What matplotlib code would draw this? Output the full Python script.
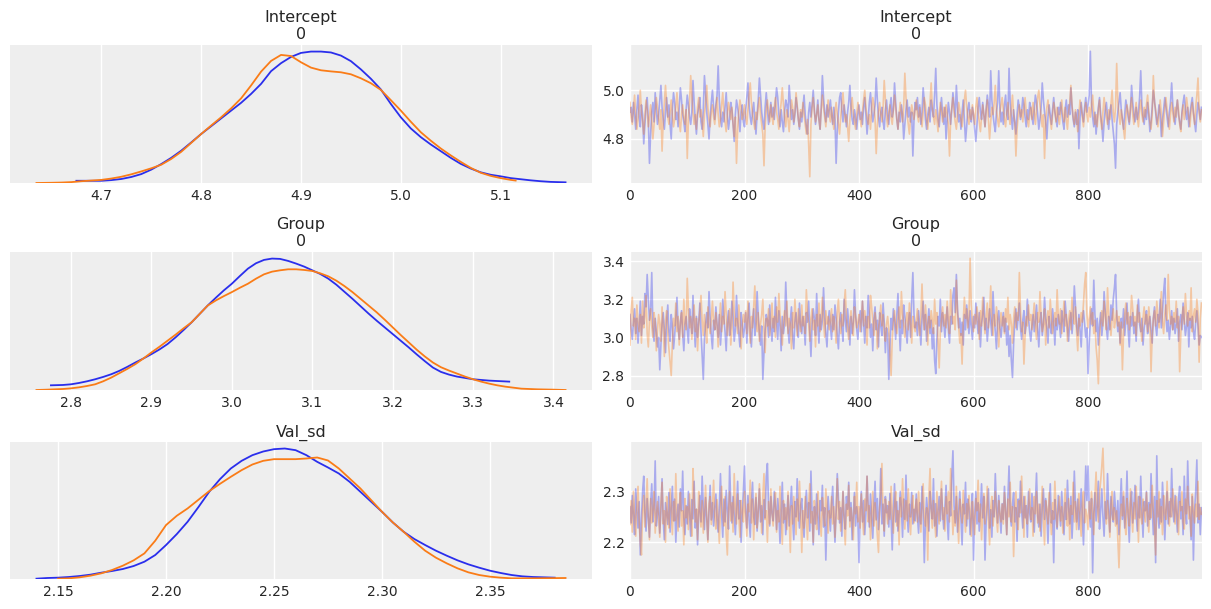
import numpy as np
import matplotlib
matplotlib.use("Agg")
import matplotlib.pyplot as plt

# ---- KDE curves (x value, density) ----
intercept_kde_x_blue = [4.675, 4.69, 4.70, 4.71, 4.72, 4.73, 4.74, 4.75, 4.76, 4.77, 4.78, 4.79, 4.80, 4.81, 4.82,
                        4.83, 4.84, 4.85, 4.86, 4.87, 4.88, 4.89, 4.90, 4.91, 4.92, 4.93, 4.94, 4.95, 4.96, 4.97,
                        4.98, 4.99, 5.00, 5.01, 5.02, 5.03, 5.04, 5.05, 5.06, 5.07, 5.08, 5.09, 5.10, 5.11, 5.12,
                        5.13, 5.14, 5.15, 5.165]
intercept_kde_y_blue = [0.10, 0.10, 0.10, 0.13, 0.18, 0.27, 0.40, 0.60, 0.85, 1.13, 1.45, 1.82, 2.20, 2.55, 2.90,
                        3.25, 3.60, 4.00, 4.45, 5.02, 5.38, 5.66, 5.84, 5.90, 5.90, 5.86, 5.72, 5.47, 5.10, 4.68,
                        4.20, 3.55, 2.95, 2.45, 2.06, 1.73, 1.43, 1.13, 0.86, 0.65, 0.48, 0.37, 0.30, 0.22, 0.17,
                        0.12, 0.08, 0.05, 0.03]
intercept_kde_x_orange = [4.635, 4.65, 4.66, 4.67, 4.68, 4.69, 4.70, 4.71, 4.72, 4.73, 4.74, 4.75, 4.76, 4.77, 4.78,
                          4.79, 4.80, 4.81, 4.82, 4.83, 4.84, 4.85, 4.86, 4.87, 4.88, 4.89, 4.90, 4.91, 4.92, 4.93,
                          4.94, 4.95, 4.96, 4.97, 4.98, 4.99, 5.00, 5.01, 5.02, 5.03, 5.04, 5.05, 5.06, 5.07, 5.08,
                          5.09, 5.10, 5.11, 5.115]
intercept_kde_y_orange = [0.0, 0.01, 0.02, 0.04, 0.08, 0.11, 0.14, 0.20, 0.28, 0.39, 0.52, 0.66, 0.82, 1.08, 1.40,
                          1.80, 2.20, 2.58, 2.95, 3.35, 3.80, 4.38, 5.00, 5.48, 5.75, 5.70, 5.42, 5.18, 5.06, 5.01,
                          4.97, 4.88, 4.70, 4.48, 4.18, 3.72, 3.25, 2.75, 2.28, 1.90, 1.55, 1.24, 0.95, 0.68, 0.46,
                          0.32, 0.22, 0.14, 0.11]

group_kde_x_blue = [2.775, 2.79, 2.80, 2.81, 2.82, 2.83, 2.84, 2.85, 2.86, 2.87, 2.88, 2.89, 2.90, 2.91, 2.92,
                    2.93, 2.94, 2.95, 2.96, 2.97, 2.98, 2.99, 3.00, 3.01, 3.02, 3.03, 3.04, 3.05, 3.06, 3.07,
                    3.08, 3.09, 3.10, 3.11, 3.12, 3.13, 3.14, 3.15, 3.16, 3.17, 3.18, 3.19, 3.20, 3.21, 3.22,
                    3.23, 3.24, 3.25, 3.26, 3.27, 3.28, 3.29, 3.30, 3.32, 3.345]
group_kde_y_blue = [0.14, 0.15, 0.17, 0.21, 0.26, 0.32, 0.39, 0.47, 0.57, 0.69, 0.82, 0.94, 1.07, 1.21, 1.37,
                    1.57, 1.79, 2.02, 2.27, 2.52, 2.75, 2.97, 3.17, 3.40, 3.62, 3.78, 3.88, 3.92, 3.91, 3.85,
                    3.77, 3.68, 3.57, 3.46, 3.32, 3.14, 2.93, 2.72, 2.50, 2.28, 2.07, 1.87, 1.67, 1.47, 1.27,
                    1.06, 0.86, 0.67, 0.54, 0.46, 0.40, 0.36, 0.32, 0.28, 0.25]
group_kde_x_orange = [2.757, 2.77, 2.78, 2.79, 2.80, 2.81, 2.82, 2.83, 2.84, 2.85, 2.86, 2.87, 2.88, 2.89, 2.90,
                      2.91, 2.92, 2.93, 2.94, 2.95, 2.96, 2.97, 2.98, 2.99, 3.00, 3.01, 3.02, 3.03, 3.04, 3.05,
                      3.06, 3.07, 3.08, 3.09, 3.10, 3.11, 3.12, 3.13, 3.14, 3.15, 3.16, 3.17, 3.18, 3.19, 3.20,
                      3.21, 3.22, 3.23, 3.24, 3.25, 3.26, 3.27, 3.28, 3.29, 3.30, 3.31, 3.32, 3.33, 3.34, 3.35,
                      3.36, 3.38, 3.40, 3.415]
group_kde_y_orange = [0.0, 0.01, 0.02, 0.03, 0.05, 0.08, 0.12, 0.17, 0.26, 0.37, 0.50, 0.63, 0.77, 0.94, 1.12,
                      1.29, 1.47, 1.65, 1.84, 2.02, 2.27, 2.52, 2.67, 2.80, 2.92, 3.05, 3.17, 3.32, 3.45, 3.53,
                      3.57, 3.60, 3.60, 3.58, 3.55, 3.48, 3.39, 3.26, 3.10, 2.92, 2.72, 2.52, 2.32, 2.10, 1.87,
                      1.64, 1.42, 1.20, 1.00, 0.82, 0.68, 0.58, 0.49, 0.40, 0.32, 0.25, 0.19, 0.14, 0.10, 0.07,
                      0.04, 0.02, 0.01, 0.0]

valsd_kde_x_blue = [2.14, 2.145, 2.15, 2.155, 2.16, 2.165, 2.17, 2.175, 2.18, 2.185, 2.19, 2.195, 2.20, 2.205, 2.21,
                    2.215, 2.22, 2.225, 2.23, 2.235, 2.24, 2.245, 2.25, 2.255, 2.26, 2.265, 2.27, 2.275, 2.28, 2.285,
                    2.29, 2.295, 2.30, 2.305, 2.31, 2.315, 2.32, 2.325, 2.33, 2.335, 2.34, 2.345, 2.35, 2.355, 2.36,
                    2.365, 2.37, 2.38]
valsd_kde_y_blue = [0.01, 0.03, 0.04, 0.06, 0.09, 0.13, 0.19, 0.24, 0.30, 0.39, 0.52, 0.72, 1.02, 1.35, 1.72,
                    2.16, 2.62, 3.00, 3.32, 3.55, 3.72, 3.83, 3.90, 3.92, 3.87, 3.72, 3.52, 3.35, 3.17, 2.92,
                    2.62, 2.32, 2.02, 1.70, 1.42, 1.20, 1.02, 0.85, 0.70, 0.56, 0.44, 0.34, 0.25, 0.18, 0.12,
                    0.08, 0.06, 0.04]
valsd_kde_x_orange = [2.15, 2.155, 2.16, 2.165, 2.17, 2.175, 2.18, 2.185, 2.19, 2.195, 2.20, 2.205, 2.21, 2.215, 2.22,
                      2.225, 2.23, 2.235, 2.24, 2.245, 2.25, 2.255, 2.26, 2.265, 2.27, 2.275, 2.28, 2.285, 2.29, 2.295,
                      2.30, 2.305, 2.31, 2.315, 2.32, 2.325, 2.33, 2.335, 2.34, 2.345, 2.35, 2.355, 2.36, 2.37, 2.385]
valsd_kde_y_orange = [0.01, 0.02, 0.05, 0.10, 0.17, 0.27, 0.40, 0.56, 0.77, 1.15, 1.62, 1.90, 2.12, 2.38, 2.64,
                      2.86, 3.07, 3.27, 3.44, 3.55, 3.60, 3.60, 3.60, 3.62, 3.65, 3.56, 3.32, 3.02, 2.72, 2.37,
                      2.02, 1.70, 1.42, 1.12, 0.85, 0.64, 0.47, 0.32, 0.20, 0.12, 0.07, 0.04, 0.02, 0.02, 0.03]

# ---- trace samples, every 2nd draw (one row = 50 draws) ----
intercept_blue = [
    4.91, 4.93, 4.87, 4.95, 4.90, 4.84, 4.92, 4.98, 4.89, 4.85, 4.94, 4.90, 4.78, 4.86, 4.93, 4.97, 4.88, 4.70, 4.82, 4.91, 4.95, 4.87, 4.99, 4.92, 4.86,
    4.90, 4.96, 5.02, 4.93, 4.88, 4.84, 4.91, 4.97, 4.89, 4.94, 4.86, 4.80, 4.92, 4.99, 4.95, 4.88, 4.91, 4.85, 4.93, 5.01, 4.96, 4.90, 4.87, 4.83, 4.92,
    4.98, 4.94, 4.89, 4.86, 4.91, 5.04, 4.95, 4.88, 4.82, 4.90, 4.93, 4.97, 4.87, 4.84, 4.92, 5.06, 4.99, 4.91, 4.86, 4.80, 4.89, 4.95, 5.00, 4.93, 4.88,
    4.94, 4.98, 5.10, 4.96, 4.89, 4.85, 4.91, 4.87, 4.93, 4.99, 4.90, 4.84, 4.88, 4.95, 4.92, 4.86, 4.79, 4.90, 4.96, 4.93, 4.89, 4.83, 4.91, 4.94, 4.87,
    4.85, 4.92, 4.97, 5.03, 4.94, 4.89, 4.86, 4.91, 4.95, 4.88, 4.82, 4.90, 4.96, 5.05, 4.98, 4.91, 4.87, 4.84, 4.93, 4.99, 4.92, 4.86, 4.90, 4.95, 4.89,
    4.93, 4.88, 4.95, 5.01, 4.97, 4.90, 4.85, 4.92, 4.87, 4.83, 4.91, 4.96, 4.94, 4.89, 5.02, 4.95, 4.88, 4.92, 4.86, 4.90, 4.97, 4.93, 4.88, 4.84, 4.91,
    4.87, 4.93, 4.98, 4.90, 4.85, 4.82, 4.91, 4.95, 4.89, 4.94, 5.00, 4.92, 4.86, 4.90, 4.96, 4.88, 4.84, 4.93, 5.06, 4.97, 4.91, 4.87, 4.94, 4.89, 4.92,
    4.96, 4.90, 4.86, 4.93, 4.88, 4.70, 4.84, 4.91, 4.97, 4.99, 4.92, 4.87, 4.94, 4.90, 4.85, 4.91, 4.95, 5.02, 4.93, 4.88, 4.86, 4.92, 4.89, 4.84, 4.90,
    4.94, 4.88, 4.91, 4.86, 4.93, 4.97, 4.90, 4.82, 4.88, 4.95, 4.99, 4.92, 4.87, 4.90, 4.94, 5.05, 4.96, 4.89, 4.85, 4.91, 4.93, 4.87, 4.84, 4.92, 4.96,
    4.90, 4.86, 4.93, 4.97, 4.89, 4.92, 5.03, 4.95, 4.88, 4.84, 4.91, 4.87, 4.94, 4.90, 4.80, 4.86, 4.92, 4.96, 4.89, 4.93, 4.87, 4.91, 4.73, 4.88, 4.95,
    4.92, 4.97, 4.89, 4.94, 4.86, 4.91, 5.01, 4.95, 4.88, 4.84, 4.90, 4.93, 4.87, 4.96, 4.92, 4.89, 4.98, 5.09, 4.94, 4.88, 4.85, 4.91, 4.97, 4.90, 4.86,
    4.93, 4.80, 4.88, 4.95, 4.91, 4.86, 4.92, 4.99, 4.94, 4.89, 5.02, 4.93, 4.87, 4.90, 4.84, 4.91, 4.96, 4.88, 4.79, 4.85, 4.92, 4.95, 4.89, 4.87, 4.93,
    4.90, 4.84, 4.79, 4.86, 4.93, 4.97, 4.91, 4.88, 4.95, 4.90, 4.85, 4.92, 4.98, 4.94, 4.89, 5.08, 4.96, 4.90, 4.86, 4.83, 4.91, 4.95, 5.08, 4.93, 4.87,
    4.91, 4.86, 4.94, 4.98, 4.90, 4.88, 5.09, 4.95, 4.89, 4.84, 4.92, 4.87, 4.82, 4.90, 4.96, 4.93, 4.88, 4.91, 4.97, 4.94, 4.89, 4.85, 4.92, 4.88, 4.95,
    4.93, 4.89, 4.86, 4.92, 4.98, 4.95, 4.90, 4.84, 4.88, 4.93, 5.03, 4.96, 4.91, 4.87, 4.80, 4.89, 4.94, 4.90, 4.86, 4.92, 4.97, 4.91, 4.88, 4.85, 4.93,
    4.90, 4.95, 4.91, 4.87, 4.84, 4.92, 4.96, 4.89, 4.94, 4.90, 5.01, 4.93, 4.88, 4.85, 4.91, 4.86, 4.92, 4.76, 4.89, 4.95, 4.90, 4.87, 4.93, 4.97, 4.91,
    4.94, 4.98, 5.16, 4.95, 4.89, 4.85, 4.91, 4.82, 4.88, 4.93, 4.97, 4.90, 4.86, 4.79, 4.87, 4.92, 4.95, 4.89, 4.84, 4.91, 4.94, 4.88, 4.83, 4.78, 4.68,
    4.86, 4.91, 4.95, 4.99, 4.92, 4.88, 4.84, 4.90, 4.96, 4.93, 4.89, 4.86, 4.92, 5.02, 4.95, 4.90, 4.87, 4.93, 4.88, 4.91, 4.97, 5.08, 4.94, 4.89, 4.86,
    4.92, 4.88, 4.95, 4.90, 4.83, 4.87, 4.93, 5.00, 4.96, 4.91, 4.86, 4.89, 4.94, 4.90, 4.81, 4.88, 4.92, 4.97, 4.93, 4.89, 4.85, 4.91, 4.95, 5.03, 4.94,
    4.89, 4.86, 4.92, 4.96, 4.90, 4.87, 4.84, 4.91, 4.95, 4.98, 4.92, 4.88, 4.93, 4.85, 4.90, 4.94, 4.97, 4.91, 4.87, 4.83, 4.90, 4.95, 4.92, 4.88, 4.93,
]
intercept_orange = [
    4.95, 4.89, 4.86, 4.92, 4.98, 4.90, 4.84, 4.88, 4.93, 5.00, 4.91, 4.87, 4.82, 4.90, 4.96, 4.92, 4.85, 4.89, 4.94, 4.88, 4.80, 4.86, 4.91, 4.97, 4.93,
    4.88, 4.84, 4.92, 4.75, 4.87, 4.95, 5.02, 4.94, 4.89, 4.86, 4.91, 4.96, 4.90, 4.85, 4.88, 4.93, 4.99, 4.92, 4.87, 4.83, 4.90, 4.94, 4.89, 4.86, 4.92,
    4.72, 4.88, 4.95, 5.06, 4.98, 4.91, 4.86, 4.90, 4.84, 4.93, 4.97, 4.89, 4.92, 4.87, 4.81, 4.90, 4.95, 5.02, 4.93, 4.88, 4.85, 4.91, 4.94, 4.89, 4.86,
    4.92, 4.97, 4.90, 4.85, 4.88, 4.94, 4.99, 4.91, 4.87, 4.83, 4.90, 4.95, 4.92, 4.88, 4.93, 4.86, 4.81, 4.89, 4.70, 4.84, 4.91, 4.96, 4.93, 4.88, 4.90,
    4.94, 4.89, 4.86, 4.92, 4.98, 5.03, 4.95, 4.90, 4.87, 4.84, 4.91, 4.88, 4.93, 4.97, 4.90, 4.86, 4.82, 4.69, 4.85, 4.92, 4.96, 4.91, 4.87, 4.94, 4.89,
    4.86, 4.93, 4.97, 4.91, 4.88, 4.84, 4.90, 4.95, 5.01, 4.94, 4.89, 4.85, 4.92, 4.88, 4.83, 4.90, 4.96, 4.93, 4.87, 4.91, 4.99, 4.94, 4.88, 4.85, 4.92,
    4.89, 4.95, 4.90, 4.86, 4.82, 4.88, 4.78, 4.645, 4.86, 4.93, 4.97, 4.91, 4.87, 4.90, 4.94, 4.88, 4.84, 4.92, 4.98, 4.93, 4.89, 4.85, 4.91, 4.96, 4.90,
    4.87, 4.93, 4.88, 4.84, 4.91, 4.95, 4.90, 4.86, 4.82, 4.89, 4.94, 4.99, 4.92, 4.87, 4.90, 4.85, 4.79, 4.88, 4.93, 4.97, 4.91, 4.87, 4.84, 4.90, 4.95,
    4.92, 4.88, 4.85, 4.91, 4.96, 5.00, 4.93, 4.89, 4.86, 4.90, 4.84, 4.92, 4.97, 4.94, 4.88, 4.74, 4.86, 4.91, 4.95, 4.90, 4.87, 4.93, 5.04, 4.96, 4.89,
    4.85, 4.91, 4.94, 4.89, 4.86, 4.92, 4.98, 4.93, 4.88, 4.84, 4.90, 4.95, 4.91, 4.87, 4.93, 5.07, 4.97, 4.90, 4.86, 4.82, 4.89, 4.94, 4.91, 4.88, 4.92,
    4.96, 4.90, 4.87, 4.93, 4.89, 4.85, 4.91, 4.97, 4.94, 4.88, 4.84, 4.90, 4.95, 5.03, 4.93, 4.89, 4.86, 4.92, 4.88, 4.83, 4.90, 4.95, 4.91, 4.87, 4.93,
    4.89, 4.94, 4.90, 4.86, 4.73, 4.88, 4.93, 4.97, 4.91, 4.87, 4.84, 4.90, 4.95, 4.92, 4.88, 4.85, 4.91, 4.96, 5.00, 4.93, 4.89, 4.86, 4.92, 4.88, 4.94,
    4.90, 4.86, 4.93, 4.97, 4.91, 4.87, 4.83, 4.89, 4.94, 4.90, 4.85, 4.92, 4.96, 4.88, 4.80, 4.87, 4.93, 4.90, 4.95, 5.02, 4.92, 4.88, 4.85, 4.91, 4.94,
    4.97, 4.92, 4.88, 4.85, 4.91, 4.95, 4.89, 4.86, 4.93, 4.98, 4.90, 4.87, 4.73, 4.84, 4.90, 4.94, 4.89, 4.92, 4.87, 4.93, 4.97, 4.91, 4.88, 4.85, 4.90,
    4.93, 4.88, 4.95, 4.91, 4.86, 4.92, 4.97, 5.00, 4.94, 4.89, 4.85, 4.90, 4.72, 4.87, 4.93, 4.96, 4.91, 4.88, 4.84, 4.90, 4.95, 4.92, 4.87, 4.93, 4.89,
    4.86, 4.92, 4.96, 4.90, 4.87, 4.93, 4.88, 4.84, 4.91, 4.95, 5.02, 4.94, 4.89, 4.86, 4.92, 4.88, 4.83, 4.90, 4.96, 4.93, 4.89, 4.85, 4.91, 4.95, 4.90,
    4.87, 4.93, 4.89, 4.94, 4.98, 4.91, 4.86, 4.90, 4.85, 4.92, 4.96, 4.88, 4.84, 4.91, 4.97, 4.93, 4.89, 4.86, 4.92, 4.88, 4.94, 5.00, 4.91, 4.87, 4.93,
    5.11, 4.95, 4.90, 4.86, 4.92, 4.88, 4.84, 4.80, 4.89, 4.94, 4.91, 4.87, 4.93, 4.97, 4.90, 4.86, 4.91, 4.95, 4.89, 4.85, 4.92, 4.96, 4.90, 4.87, 4.93,
    4.89, 4.94, 4.98, 4.91, 4.87, 4.84, 4.90, 5.06, 4.95, 4.92, 4.88, 4.85, 4.91, 4.96, 4.90, 4.81, 4.87, 4.93, 4.97, 4.92, 4.88, 4.84, 4.90, 4.95, 4.91,
    4.87, 4.93, 4.89, 4.96, 4.92, 4.86, 4.83, 4.90, 4.94, 4.88, 4.91, 4.97, 4.93, 4.89, 4.85, 4.92, 4.95, 4.90, 4.86, 4.93, 4.98, 5.05, 4.91, 4.87, 4.92,
]

group_blue = [
    3.12, 3.04, 2.99, 3.08, 3.15, 3.02, 3.10, 2.97, 3.06, 3.19, 3.01, 3.11, 3.07, 3.23, 3.16, 3.33, 3.20, 3.09, 3.14, 3.34, 3.05, 2.98, 3.10, 3.03, 2.95,
    3.00, 2.83, 2.96, 3.07, 3.13, 3.04, 2.92, 3.09, 3.17, 3.03, 2.98, 3.12, 3.06, 2.94, 3.01, 3.10, 3.21, 3.05, 2.99, 3.08, 3.14, 3.02, 2.93, 3.07, 3.11,
    3.04, 2.97, 3.15, 3.09, 3.02, 3.22, 3.06, 2.95, 3.11, 3.00, 3.08, 3.18, 3.03, 2.91, 2.78, 2.99, 3.07, 3.13, 3.05, 3.24, 3.10, 3.01, 2.94, 3.09, 3.04,
    3.16, 3.07, 3.00, 3.12, 2.96, 3.05, 3.20, 3.10, 3.03, 2.93, 3.08, 3.14, 3.01, 3.06, 3.19, 3.11, 2.98, 3.04, 3.22, 3.09, 3.02, 2.95, 3.13, 3.07, 3.00,
    3.05, 3.13, 2.97, 3.10, 3.18, 3.03, 2.95, 3.08, 3.15, 3.01, 3.07, 3.24, 3.11, 3.02, 2.96, 3.06, 2.78, 2.92, 3.04, 3.12, 3.09, 3.00, 3.17, 3.05, 2.98,
    3.10, 3.03, 3.21, 3.08, 2.99, 3.14, 3.06, 2.93, 3.11, 3.02, 3.07, 3.29, 3.12, 3.04, 2.97, 3.09, 3.16, 3.01, 2.94, 3.08, 3.13, 3.05, 3.00, 3.18, 3.07,
    3.02, 3.11, 3.06, 2.96, 3.13, 3.08, 3.19, 3.03, 2.90, 3.07, 3.15, 3.10, 3.01, 3.23, 3.06, 2.97, 3.12, 3.04, 3.09, 3.26, 3.11, 3.02, 2.95, 3.08, 3.14,
    3.06, 2.99, 3.12, 3.04, 3.17, 3.10, 3.01, 2.94, 3.08, 3.13, 3.05, 2.98, 3.20, 3.09, 3.03, 3.15, 3.07, 2.96, 3.11, 3.02, 3.08, 3.25, 3.12, 3.04, 2.99,
    3.09, 3.14, 3.03, 3.19, 3.08, 2.97, 3.11, 3.05, 3.22, 3.12, 3.00, 3.07, 2.93, 3.10, 3.16, 3.04, 3.09, 2.95, 3.13, 3.06, 3.01, 3.18, 3.08, 2.92, 3.05,
    3.02, 2.78, 2.96, 3.10, 3.04, 3.15, 3.08, 2.99, 3.12, 3.23, 3.06, 2.93, 3.09, 3.02, 3.17, 3.11, 3.04, 2.97, 3.07, 3.13, 3.00, 3.20, 3.34, 3.12, 3.05,
    3.08, 3.01, 3.14, 3.06, 2.96, 3.10, 3.19, 3.04, 3.12, 2.98, 3.07, 3.15, 3.02, 3.09, 2.94, 3.05, 2.88, 2.81, 2.99, 3.11, 3.06, 3.20, 3.03, 3.13, 3.08,
    3.00, 3.09, 3.16, 3.04, 2.97, 3.11, 3.07, 3.22, 3.26, 3.13, 3.33, 3.15, 3.05, 3.10, 3.01, 3.08, 2.96, 3.12, 3.04, 3.17, 3.09, 3.02, 3.14, 3.06, 2.99,
    3.11, 3.05, 3.18, 3.09, 3.02, 3.13, 2.95, 3.07, 3.12, 3.21, 3.04, 3.10, 2.98, 3.06, 3.15, 3.08, 3.01, 3.24, 3.11, 3.03, 2.94, 3.09, 3.14, 3.05, 3.00,
    3.07, 3.13, 3.03, 3.10, 2.96, 3.06, 2.90, 3.01, 2.88, 2.79, 2.97, 3.08, 3.15, 3.04, 3.11, 3.18, 3.05, 2.99, 3.09, 3.14, 3.02, 3.07, 3.20, 3.10, 3.03,
    2.98, 3.06, 3.12, 3.03, 3.09, 3.17, 3.04, 2.95, 3.08, 3.13, 3.01, 3.07, 3.21, 3.10, 3.05, 2.97, 3.11, 3.06, 3.02, 3.15, 3.08, 2.96, 3.10, 3.04, 3.12,
    3.07, 3.00, 3.14, 3.09, 3.03, 3.19, 3.11, 3.05, 2.98, 3.08, 3.13, 3.02, 3.10, 3.27, 3.16, 3.06, 3.01, 3.12, 3.04, 2.95, 3.09, 3.14, 3.07, 3.00, 3.05,
    2.81, 2.97, 3.09, 3.15, 3.06, 3.30, 3.12, 3.03, 3.10, 2.96, 3.07, 3.13, 3.01, 3.08, 3.24, 3.14, 3.05, 2.99, 3.11, 3.04, 3.17, 3.09, 3.20, 3.26, 3.33,
    3.12, 3.03, 3.08, 2.97, 3.10, 3.05, 3.15, 3.01, 3.09, 3.18, 3.04, 2.95, 3.11, 3.06, 3.13, 3.02, 3.08, 2.98, 3.12, 3.20, 3.07, 3.03, 3.10, 2.96, 3.05,
    3.09, 3.14, 3.02, 3.07, 3.11, 3.04, 2.97, 3.10, 3.16, 3.06, 3.01, 3.12, 3.08, 3.20, 3.05, 3.13, 3.24, 3.31, 3.11, 3.03, 3.09, 2.99, 3.06, 3.14, 3.04,
    3.10, 3.02, 3.07, 3.15, 2.98, 3.08, 3.12, 3.04, 3.18, 3.09, 3.01, 3.06, 3.13, 2.95, 3.10, 3.05, 3.11, 3.03, 2.99, 3.08, 3.14, 3.06, 2.96, 3.01, 3.00,
]
group_orange = [
    2.96, 3.14, 3.21, 3.06, 3.10, 2.99, 3.17, 3.08, 3.03, 3.12, 2.97, 3.19, 3.05, 3.11, 3.22, 3.02, 2.95, 3.09, 3.15, 3.06, 3.00, 3.13, 3.08, 2.93, 3.04,
    3.12, 3.07, 2.98, 3.16, 3.05, 2.90, 3.09, 3.14, 3.02, 2.94, 2.87, 2.80, 2.97, 3.10, 3.06, 3.18, 3.03, 3.11, 2.96, 3.08, 3.13, 3.00, 3.20, 3.07, 3.04,
    3.31, 3.15, 3.05, 3.11, 2.99, 3.08, 3.17, 3.03, 3.10, 2.93, 3.06, 3.14, 3.22, 3.09, 3.01, 3.12, 3.05, 2.97, 3.16, 3.07, 3.02, 3.10, 3.19, 3.08, 3.04,
    3.13, 3.06, 2.95, 3.09, 3.18, 3.03, 3.11, 3.07, 3.24, 3.12, 3.01, 3.08, 3.15, 2.96, 3.05, 3.29, 3.14, 3.06, 3.10, 3.02, 3.17, 3.09, 2.94, 3.05, 3.12,
    3.08, 3.14, 3.02, 3.19, 3.06, 2.97, 3.11, 3.05, 3.16, 3.27, 3.09, 3.03, 3.13, 2.98, 3.07, 3.12, 3.20, 3.04, 2.92, 3.10, 3.06, 3.15, 3.01, 3.08, 3.18,
    3.05, 3.11, 3.00, 3.16, 3.08, 3.23, 3.12, 3.04, 2.96, 3.09, 3.14, 3.06, 3.19, 3.02, 3.10, 3.07, 2.94, 3.13, 3.05, 3.20, 3.09, 3.01, 3.15, 3.08, 3.03,
    3.17, 3.06, 3.11, 3.02, 3.25, 3.13, 3.07, 2.98, 3.10, 3.15, 3.04, 3.09, 2.95, 3.12, 3.06, 3.18, 3.03, 3.10, 3.21, 3.08, 3.00, 3.14, 3.07, 3.11, 3.04,
    3.09, 3.15, 3.03, 3.11, 3.06, 2.97, 3.13, 3.20, 3.08, 3.02, 3.12, 3.06, 3.17, 3.25, 3.10, 3.04, 2.99, 3.09, 3.14, 3.07, 3.01, 3.16, 3.11, 3.05, 3.08,
    3.12, 3.03, 3.10, 3.19, 3.06, 3.14, 3.08, 2.96, 3.11, 3.05, 3.22, 3.16, 3.09, 3.01, 3.13, 3.07, 2.94, 3.04, 3.10, 3.17, 3.06, 3.12, 3.02, 2.98, 3.07,
    3.11, 3.04, 2.92, 2.80, 2.99, 3.08, 3.14, 3.06, 3.02, 3.10, 3.16, 3.05, 3.24, 3.12, 3.07, 3.00, 3.09, 3.13, 3.04, 3.18, 3.08, 2.97, 3.11, 3.06, 3.03,
    3.09, 3.15, 3.06, 3.01, 3.12, 3.28, 3.10, 3.04, 3.17, 3.08, 2.96, 3.11, 3.05, 3.14, 3.09, 3.02, 3.20, 3.07, 3.13, 2.98, 2.84, 3.03, 3.10, 3.16, 3.06,
    3.12, 3.05, 3.19, 3.09, 3.02, 3.25, 3.14, 3.07, 3.11, 3.04, 3.30, 3.13, 3.06, 2.97, 3.02, 2.86, 3.08, 3.21, 3.10, 3.15, 3.05, 3.11, 3.415, 3.17, 3.08,
    3.03, 3.12, 3.07, 3.16, 3.10, 2.99, 3.14, 3.06, 3.21, 3.09, 3.02, 3.11, 3.18, 3.05, 3.13, 3.27, 3.08, 3.01, 3.12, 3.06, 3.16, 3.10, 2.95, 3.07, 3.13,
    3.06, 3.11, 3.02, 3.15, 3.08, 3.21, 3.04, 3.12, 3.07, 2.97, 3.10, 3.16, 3.05, 3.13, 3.09, 3.34, 3.14, 3.03, 3.08, 2.86, 3.01, 3.11, 3.06, 3.17, 3.09,
    3.12, 3.04, 3.10, 3.18, 3.06, 2.99, 3.13, 3.08, 3.24, 3.11, 3.03, 3.07, 3.15, 2.96, 3.09, 3.14, 3.05, 3.20, 3.10, 3.02, 3.08, 3.13, 3.06, 3.25, 3.11,
    3.07, 3.15, 3.02, 3.10, 3.19, 3.06, 3.12, 2.98, 3.09, 3.14, 3.04, 3.21, 3.11, 3.07, 3.16, 3.03, 2.93, 3.10, 3.06, 3.13, 3.08, 3.18, 3.28, 3.34, 3.12,
    3.05, 3.10, 3.16, 3.07, 3.13, 3.02, 3.09, 2.95, 2.88, 2.757, 2.99, 3.08, 3.14, 3.06, 3.19, 3.11, 3.04, 3.26, 3.12, 3.07, 3.01, 3.10, 3.15, 3.05, 3.09,
    3.14, 3.06, 3.11, 2.96, 3.08, 2.83, 3.02, 3.12, 3.18, 3.07, 3.13, 3.04, 3.09, 3.22, 3.15, 3.06, 3.11, 3.01, 3.17, 3.08, 3.13, 3.05, 2.98, 3.10, 3.16,
    3.07, 3.12, 3.03, 3.16, 3.09, 2.82, 3.01, 3.10, 3.14, 3.06, 3.19, 3.11, 3.05, 3.13, 3.24, 3.08, 3.02, 3.12, 3.17, 3.09, 3.33, 3.15, 3.07, 3.11, 3.04,
    3.13, 3.08, 3.19, 3.05, 3.11, 2.82, 3.02, 3.10, 3.16, 3.07, 3.23, 3.12, 3.06, 3.14, 3.09, 3.26, 3.03, 3.11, 3.15, 3.08, 3.20, 3.13, 2.87, 3.10, 3.18,
]

valsd_blue = [
    2.270, 2.238, 2.292, 2.250, 2.215, 2.305, 2.262, 2.228, 2.280, 2.175, 2.245, 2.300, 2.330, 2.258, 2.222, 2.286, 2.248, 2.210, 2.275, 2.315, 2.240, 2.266, 2.360, 2.232, 2.255,
    2.290, 2.218, 2.262, 2.325, 2.244, 2.205, 2.278, 2.256, 2.235, 2.298, 2.220, 2.268, 2.310, 2.242, 2.285, 2.200, 2.252, 2.275, 2.230, 2.305, 2.262, 2.340, 2.248, 2.215, 2.272,
    2.236, 2.300, 2.258, 2.212, 2.284, 2.246, 2.320, 2.228, 2.265, 2.195, 2.255, 2.292, 2.240, 2.330, 2.270, 2.225, 2.288, 2.250, 2.205, 2.262, 2.312, 2.244, 2.278, 2.232, 2.268,
    2.295, 2.245, 2.220, 2.270, 2.335, 2.255, 2.210, 2.285, 2.240, 2.302, 2.262, 2.226, 2.350, 2.275, 2.238, 2.290, 2.252, 2.215, 2.268, 2.320, 2.246, 2.282, 2.200, 2.258, 2.300,
    2.350, 2.262, 2.228, 2.292, 2.245, 2.210, 2.276, 2.318, 2.250, 2.235, 2.288, 2.222, 2.265, 2.305, 2.240, 2.272, 2.215, 2.284, 2.248, 2.330, 2.355, 2.268, 2.232, 2.290, 2.256,
    2.242, 2.300, 2.270, 2.225, 2.286, 2.252, 2.198, 2.262, 2.318, 2.238, 2.275, 2.215, 2.255, 2.292, 2.232, 2.268, 2.310, 2.246, 2.205, 2.280, 2.250, 2.325, 2.262, 2.228, 2.272,
    2.286, 2.240, 2.210, 2.265, 2.302, 2.248, 2.278, 2.222, 2.340, 2.258, 2.195, 2.270, 2.236, 2.295, 2.250, 2.215, 2.282, 2.262, 2.312, 2.230, 2.268, 2.165, 2.245, 2.290, 2.256,
    2.222, 2.275, 2.310, 2.248, 2.200, 2.262, 2.335, 2.285, 2.238, 2.268, 2.212, 2.300, 2.252, 2.226, 2.290, 2.265, 2.318, 2.242, 2.278, 2.205, 2.255, 2.298, 2.232, 2.270, 2.246,
    2.160, 2.265, 2.300, 2.240, 2.282, 2.215, 2.256, 2.330, 2.272, 2.230, 2.295, 2.250, 2.208, 2.268, 2.320, 2.244, 2.286, 2.225, 2.262, 2.345, 2.236, 2.275, 2.212, 2.290, 2.258,
    2.272, 2.230, 2.296, 2.248, 2.185, 2.262, 2.315, 2.240, 2.280, 2.222, 2.258, 2.300, 2.268, 2.210, 2.285, 2.245, 2.332, 2.256, 2.220, 2.275, 2.250, 2.298, 2.236, 2.265, 2.242,
    2.295, 2.250, 2.218, 2.278, 2.236, 2.310, 2.262, 2.160, 2.240, 2.288, 2.255, 2.222, 2.300, 2.268, 2.246, 2.325, 2.232, 2.276, 2.212, 2.262, 2.290, 2.242, 2.305, 2.258, 2.226,
    2.268, 2.312, 2.245, 2.205, 2.280, 2.252, 2.330, 2.380, 2.272, 2.238, 2.290, 2.220, 2.262, 2.300, 2.248, 2.195, 2.275, 2.256, 2.318, 2.232, 2.285, 2.268, 2.215, 2.250, 2.296,
    2.165, 2.258, 2.300, 2.236, 2.278, 2.222, 2.262, 2.315, 2.248, 2.290, 2.165, 2.240, 2.272, 2.305, 2.228, 2.264, 2.210, 2.282, 2.250, 2.335, 2.270, 2.238, 2.292, 2.256, 2.218,
    2.276, 2.245, 2.310, 2.262, 2.215, 2.288, 2.350, 2.255, 2.232, 2.275, 2.298, 2.240, 2.268, 2.202, 2.285, 2.250, 2.320, 2.262, 2.228, 2.290, 2.248, 2.272, 2.210, 2.300, 2.258,
    2.240, 2.296, 2.262, 2.220, 2.280, 2.336, 2.252, 2.230, 2.275, 2.212, 2.268, 2.305, 2.245, 2.286, 2.258, 2.198, 2.270, 2.315, 2.238, 2.262, 2.160, 2.284, 2.250, 2.226, 2.292,
    2.262, 2.232, 2.300, 2.255, 2.215, 2.278, 2.245, 2.322, 2.268, 2.236, 2.290, 2.208, 2.258, 2.340, 2.272, 2.240, 2.285, 2.225, 2.262, 2.305, 2.248, 2.195, 2.270, 2.350, 2.282,
    2.350, 2.262, 2.230, 2.286, 2.140, 2.258, 2.298, 2.242, 2.270, 2.320, 2.226, 2.262, 2.305, 2.250, 2.212, 2.280, 2.246, 2.335, 2.268, 2.220, 2.290, 2.255, 2.240, 2.300, 2.262,
    2.236, 2.282, 2.215, 2.268, 2.325, 2.245, 2.290, 2.228, 2.262, 2.340, 2.250, 2.200, 2.276, 2.300, 2.238, 2.268, 2.312, 2.255, 2.222, 2.290, 2.248, 2.330, 2.262, 2.210, 2.280,
    2.262, 2.300, 2.232, 2.278, 2.245, 2.335, 2.268, 2.215, 2.290, 2.160, 2.370, 2.256, 2.228, 2.285, 2.240, 2.318, 2.270, 2.205, 2.262, 2.300, 2.236, 2.280, 2.250, 2.345, 2.265,
    2.240, 2.292, 2.258, 2.220, 2.285, 2.310, 2.246, 2.270, 2.215, 2.330, 2.262, 2.236, 2.360, 2.278, 2.250, 2.205, 2.290, 2.165, 2.262, 2.300, 2.362, 2.238, 2.275, 2.215, 2.268,
]
valsd_orange = [
    2.235, 2.282, 2.220, 2.300, 2.256, 2.212, 2.268, 2.310, 2.240, 2.198, 2.175, 2.262, 2.292, 2.230, 2.275, 2.325, 2.248, 2.205, 2.286, 2.238, 2.265, 2.300, 2.218, 2.258, 2.280,
    2.245, 2.210, 2.278, 2.318, 2.236, 2.262, 2.200, 2.290, 2.250, 2.228, 2.305, 2.268, 2.215, 2.280, 2.242, 2.335, 2.256, 2.222, 2.272, 2.298, 2.232, 2.262, 2.195, 2.286, 2.248,
    2.270, 2.225, 2.295, 2.250, 2.212, 2.345, 2.288, 2.240, 2.265, 2.205, 2.300, 2.258, 2.230, 2.282, 2.218, 2.262, 2.312, 2.245, 2.200, 2.276, 2.290, 2.235, 2.268, 2.322, 2.252,
    2.226, 2.284, 2.245, 2.198, 2.270, 2.310, 2.256, 2.232, 2.290, 2.215, 2.175, 2.262, 2.300, 2.242, 2.278, 2.220, 2.335, 2.268, 2.236, 2.295, 2.250, 2.210, 2.282, 2.262, 2.240,
    2.300, 2.248, 2.212, 2.275, 2.260, 2.322, 2.238, 2.285, 2.205, 2.265, 2.296, 2.228, 2.252, 2.315, 2.270, 2.218, 2.290, 2.335, 2.245, 2.262, 2.200, 2.280, 2.236, 2.305, 2.256,
    2.232, 2.275, 2.298, 2.220, 2.262, 2.240, 2.310, 2.255, 2.196, 2.282, 2.245, 2.268, 2.225, 2.300, 2.250, 2.180, 2.272, 2.236, 2.290, 2.258, 2.215, 2.285, 2.242, 2.320, 2.265,
    2.180, 2.262, 2.228, 2.290, 2.246, 2.205, 2.275, 2.315, 2.238, 2.260, 2.200, 2.282, 2.252, 2.225, 2.300, 2.268, 2.240, 2.212, 2.288, 2.256, 2.232, 2.305, 2.270, 2.218, 2.262,
    2.248, 2.290, 2.236, 2.270, 2.210, 2.258, 2.325, 2.245, 2.280, 2.222, 2.262, 2.300, 2.238, 2.195, 2.275, 2.252, 2.312, 2.230, 2.268, 2.245, 2.205, 2.290, 2.256, 2.318, 2.240,
    2.270, 2.228, 2.295, 2.250, 2.215, 2.285, 2.262, 2.330, 2.240, 2.272, 2.205, 2.256, 2.300, 2.232, 2.278, 2.245, 2.212, 2.180, 2.268, 2.296, 2.355, 2.250, 2.222, 2.285, 2.262,
    2.236, 2.280, 2.245, 2.310, 2.258, 2.218, 2.272, 2.300, 2.232, 2.262, 2.195, 2.288, 2.250, 2.325, 2.268, 2.226, 2.282, 2.242, 2.305, 2.256, 2.215, 2.270, 2.292, 2.238, 2.262,
    2.285, 2.240, 2.300, 2.255, 2.220, 2.276, 2.315, 2.250, 2.232, 2.268, 2.165, 2.290, 2.345, 2.262, 2.228, 2.282, 2.246, 2.210, 2.300, 2.258, 2.236, 2.275, 2.320, 2.245, 2.268,
    2.222, 2.290, 2.256, 2.300, 2.240, 2.345, 2.275, 2.215, 2.262, 2.232, 2.310, 2.250, 2.198, 2.285, 2.268, 2.238, 2.302, 2.255, 2.220, 2.276, 2.246, 2.292, 2.262, 2.212, 2.280,
    2.252, 2.215, 2.286, 2.262, 2.322, 2.240, 2.275, 2.205, 2.258, 2.296, 2.236, 2.270, 2.310, 2.245, 2.195, 2.268, 2.290, 2.232, 2.262, 2.300, 2.250, 2.220, 2.282, 2.256, 2.240,
    2.275, 2.236, 2.298, 2.260, 2.215, 2.285, 2.250, 2.318, 2.240, 2.270, 2.172, 2.262, 2.300, 2.246, 2.225, 2.282, 2.258, 2.330, 2.268, 2.210, 2.290, 2.250, 2.236, 2.276, 2.305,
    2.245, 2.268, 2.212, 2.290, 2.256, 2.300, 2.238, 2.275, 2.222, 2.262, 2.310, 2.248, 2.195, 2.282, 2.265, 2.236, 2.298, 2.256, 2.215, 2.278, 2.245, 2.320, 2.268, 2.230, 2.262,
    2.290, 2.242, 2.270, 2.218, 2.262, 2.305, 2.250, 2.232, 2.286, 2.205, 2.272, 2.255, 2.318, 2.240, 2.280, 2.225, 2.262, 2.296, 2.248, 2.212, 2.275, 2.300, 2.238, 2.265, 2.252,
    2.225, 2.280, 2.246, 2.300, 2.260, 2.215, 2.290, 2.338, 2.272, 2.240, 2.296, 2.320, 2.350, 2.385, 2.310, 2.262, 2.236, 2.282, 2.250, 2.210, 2.275, 2.300, 2.244, 2.268, 2.232,
    2.262, 2.205, 2.150, 2.230, 2.275, 2.252, 2.300, 2.240, 2.215, 2.286, 2.262, 2.232, 2.305, 2.256, 2.220, 2.278, 2.246, 2.310, 2.268, 2.200, 2.290, 2.252, 2.236, 2.285, 2.262,
    2.240, 2.298, 2.256, 2.220, 2.275, 2.248, 2.312, 2.265, 2.228, 2.175, 2.282, 2.250, 2.300, 2.236, 2.270, 2.215, 2.292, 2.258, 2.245, 2.320, 2.262, 2.232, 2.286, 2.250, 2.305,
    2.268, 2.236, 2.290, 2.252, 2.215, 2.280, 2.262, 2.300, 2.240, 2.226, 2.285, 2.256, 2.310, 2.246, 2.270, 2.212, 2.295, 2.262, 2.238, 2.275, 2.250, 2.320, 2.245, 2.268, 2.255,
]
draw_step = 2

titles = ["Intercept\n0", "Group\n0", "Val_sd"]
kde_ticks = [[4.7, 4.8, 4.9, 5.0, 5.1],
             [2.8, 2.9, 3.0, 3.1, 3.2, 3.3, 3.4],
             [2.15, 2.20, 2.25, 2.30, 2.35]]
kde_ticklabels = [["4.7", "4.8", "4.9", "5.0", "5.1"],
                  ["2.8", "2.9", "3.0", "3.1", "3.2", "3.3", "3.4"],
                  ["2.15", "2.20", "2.25", "2.30", "2.35"]]
trace_yticks = [[4.8, 5.0], [2.8, 3.0, 3.2, 3.4], [2.2, 2.3]]
trace_xticks = [0, 200, 400, 600, 800]

kdes = [
    (intercept_kde_x_blue, intercept_kde_y_blue, intercept_kde_x_orange, intercept_kde_y_orange),
    (group_kde_x_blue, group_kde_y_blue, group_kde_x_orange, group_kde_y_orange),
    (valsd_kde_x_blue, valsd_kde_y_blue, valsd_kde_x_orange, valsd_kde_y_orange),
]
traces = [
    (intercept_blue, intercept_orange),
    (group_blue, group_orange),
    (valsd_blue, valsd_orange),
]

blue = "#2a2eec"
orange = "#fa7c17"
txt = "#262626"

W, H = 1211, 609
fig = plt.figure(figsize=(W / 100, H / 100), dpi=100)

# axes boxes in pixels: (top, bottom)
rows = [(45, 183), (252, 390), (442, 579)]
left_x = (10, 592)
right_x = (630, 1202)

def style(ax):
    ax.set_facecolor("#eeeeee")
    for s in ax.spines.values():
        s.set_visible(False)
    ax.tick_params(length=0, labelsize=10, colors=txt, pad=4)
    ax.set_axisbelow(True)

for i in range(3):
    top, bot = rows[i]
    # density
    ax = fig.add_axes([left_x[0] / W, 1 - bot / H, (left_x[1] - left_x[0]) / W, (bot - top) / H])
    style(ax)
    xb, yb, xo, yo = kdes[i]
    ax.plot(xb, yb, color=blue, lw=1.3)
    ax.plot(xo, yo, color=orange, lw=1.3)
    ax.margins(x=0.05, y=0.05)
    ax.set_ylim(bottom=0)
    ax.set_yticks([])
    ax.set_xticks(kde_ticks[i])
    ax.set_xticklabels(kde_ticklabels[i])
    ax.grid(True, axis="x", color="white", lw=1.0)
    ax.set_title(titles[i], fontsize=11.5, color=txt, pad=4)

    # trace
    ax = fig.add_axes([right_x[0] / W, 1 - bot / H, (right_x[1] - right_x[0]) / W, (bot - top) / H])
    style(ax)
    tb, to = traces[i]
    ax.plot(np.arange(len(tb)) * draw_step, tb, color=blue, lw=1.2, alpha=0.35)
    ax.plot(np.arange(len(to)) * draw_step, to, color=orange, lw=1.2, alpha=0.35)
    ax.set_xlim(0, 999)
    ax.margins(y=0.05)
    ax.set_xticks(trace_xticks)
    ax.set_yticks(trace_yticks[i])
    ax.grid(True, color="white", lw=1.0)
    ax.set_title(titles[i], fontsize=11.5, color=txt, pad=4)

fig.savefig("out.png", dpi=100)
